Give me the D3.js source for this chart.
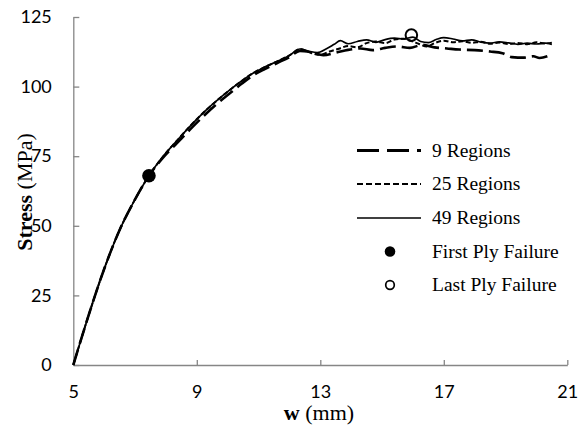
<!DOCTYPE html>
<html><head><meta charset="utf-8">
<script src="https://cdn.jsdelivr.net/npm/d3@7"></script>
<style>body{margin:0;background:#fff}svg{display:block}</style>
</head><body>
<svg id="c" width="583" height="427"></svg>
<script>
const xTicks = [5, 9, 13, 17, 21];
const yTicks = [0, 25, 50, 75, 100, 125];
const seriesNames = ["9 Regions", "25 Regions", "49 Regions"];
const rise = [[5,0],[5.5,18],[6,34.5],[6.5,48.5],[7,59.5],[7.45,68],[7.9,74.8],[8.35,80.5],[8.8,86],[9.2,90.5],[9.6,94.5],[10.07,98.8],[10.45,102],[10.82,104.8],[11.2,107],[11.59,109],[12,111.2],[12.34,113.5]];
const plateau49 = [[12.6,112.8],[12.9,112.2],[13.2,113.6],[13.45,115.2],[13.65,116.5],[13.9,115.4],[14.2,116.2],[14.5,116.8],[14.8,115.9],[15.1,116.9],[15.4,117.4],[15.7,117.1],[16,117.8],[16.25,116.2],[16.5,115.8],[16.75,116.9],[17,117.6],[17.3,117.1],[17.6,116.4],[17.9,116.8],[18.2,116],[18.5,115.6],[18.8,116.1],[19.1,115.7],[19.4,115.2],[19.7,115.6],[20,115.3],[20.3,115.6],[20.5,115.1]];
const plateau25 = [[12.7,112.1],[13,111.4],[13.3,112.6],[13.6,113.6],[13.9,114.6],[14.2,114.1],[14.5,115.6],[14.8,116.2],[15.1,115.6],[15.4,116.9],[15.7,117.2],[15.95,116.4],[16.2,115.3],[16.45,114.4],[16.7,115.6],[17,116.5],[17.3,115.9],[17.6,116.3],[17.9,115.7],[18.2,116.1],[18.5,115.4],[18.8,115.8],[19.1,115.3],[19.4,115.7],[19.7,115.2],[20,115.9],[20.3,115.5],[20.5,115.8]];
const rise9 = [[5,0],[5.5,18],[6,34.5],[6.5,48.5],[7,59.5],[7.45,68],[7.9,74.4],[8.35,79.6],[8.8,84.8],[9.2,89.2],[9.6,93.3],[10.07,97.6],[10.45,101],[10.82,104],[11.2,106.3],[11.59,108.4],[12,110.6],[12.34,112.8]];
const plateau9 = [[12.7,112.4],[13.1,111.3],[13.5,112.2],[13.9,113.2],[14.3,113.7],[14.7,113.1],[15.1,113.9],[15.5,114.4],[15.9,113.9],[16.3,115],[16.7,114.1],[17.1,113.7],[17.5,113.3],[18,113.1],[18.5,112.6],[18.9,112],[19.2,110.6],[19.6,110.4],[19.9,110.9],[20.1,110.3],[20.4,111.1]];
const firstPly = [7.45, 68];
const lastPly = [15.95, 118.5];

const series = [rise9.concat(plateau9), rise.concat(plateau25), rise.concat(plateau49)];
const styles = [{w:2.6,d:"16,6"},{w:2,d:"5,2.5"},{w:1.7,d:null}];
const legStyles = [{w:3,d:"22,8"},{w:2,d:"6,3"},{w:1.6,d:null}];

const svg = d3.select("#c");
const x = d3.scaleLinear().domain([5,21]).range([73.3,567.3]);
const y = d3.scaleLinear().domain([0,125]).range([365,17]);
const axisCol = "#868686";
const tickFont = "Lato, 'Open Sans', sans-serif";

const gx = svg.append("g").attr("transform","translate(0,365)")
  .call(d3.axisBottom(x).tickValues(xTicks).tickSizeInner(-5).tickSizeOuter(0).tickPadding(20));
const gy = svg.append("g").attr("transform","translate(73.3,0)")
  .call(d3.axisLeft(y).tickValues(yTicks).tickSizeInner(-6).tickSizeOuter(0).tickPadding(21.5));
[gx,gy].forEach(g=>{
  g.select(".domain").attr("stroke",axisCol).attr("stroke-width",1.3);
  g.selectAll(".tick line").attr("stroke",axisCol).attr("stroke-width",1.3);
  g.selectAll(".tick text").attr("fill","#000").style("font-family",tickFont).style("font-size","18px");
});

const line = d3.line().x(d=>x(d[0])).y(d=>y(d[1])).curve(d3.curveMonotoneX);
series.forEach((s,i)=>{
  svg.append("path").datum(s).attr("d",line).attr("fill","none")
    .attr("stroke","#000").attr("stroke-width",styles[i].w)
    .attr("stroke-dasharray",styles[i].d);
});
svg.append("circle").attr("cx",x(firstPly[0])).attr("cy",y(firstPly[1])).attr("r",6.8).attr("fill","#000");
svg.append("circle").attr("cx",x(lastPly[0])).attr("cy",y(lastPly[1])).attr("r",5.8).attr("fill","#fff").attr("fill-opacity",0).attr("stroke","#000").attr("stroke-width",2);

// axis titles
const serif = "'Liberation Serif', 'Times New Roman', serif";
const xt = svg.append("text").attr("x",319).attr("y",420).attr("text-anchor","middle")
  .style("font-family",serif).style("font-size","22px");
xt.append("tspan").attr("font-weight","bold").text("w");
xt.append("tspan").text(" (mm)");
const yt = svg.append("text").attr("transform","translate(32,192) rotate(-90)").attr("text-anchor","middle")
  .style("font-family",serif).style("font-size","22px");
yt.append("tspan").attr("font-weight","bold").text("Stress");
yt.append("tspan").text(" (MPa)");

// legend
const legY = [150.5, 184, 218, 251.5, 285];
const legFont = "19.5px";
seriesNames.forEach((n,i)=>{
  svg.append("line").attr("x1",357).attr("x2",421).attr("y1",legY[i]).attr("y2",legY[i])
    .attr("stroke","#000").attr("stroke-width",legStyles[i].w).attr("stroke-dasharray",legStyles[i].d);
  svg.append("text").attr("x",432).attr("y",legY[i]).attr("dy","0.33em")
    .style("font-family",serif).style("font-size",legFont).text(n);
});
svg.append("circle").attr("cx",390).attr("cy",legY[3]).attr("r",5.3).attr("fill","#000");
svg.append("text").attr("x",432).attr("y",legY[3]).attr("dy","0.33em").style("font-family",serif).style("font-size",legFont).text("First Ply Failure");
svg.append("circle").attr("cx",390).attr("cy",legY[4]).attr("r",4.3).attr("fill","#fff").attr("stroke","#000").attr("stroke-width",1.7);
svg.append("text").attr("x",432).attr("y",legY[4]).attr("dy","0.33em").style("font-family",serif).style("font-size",legFont).text("Last Ply Failure");
</script>
</body></html>
